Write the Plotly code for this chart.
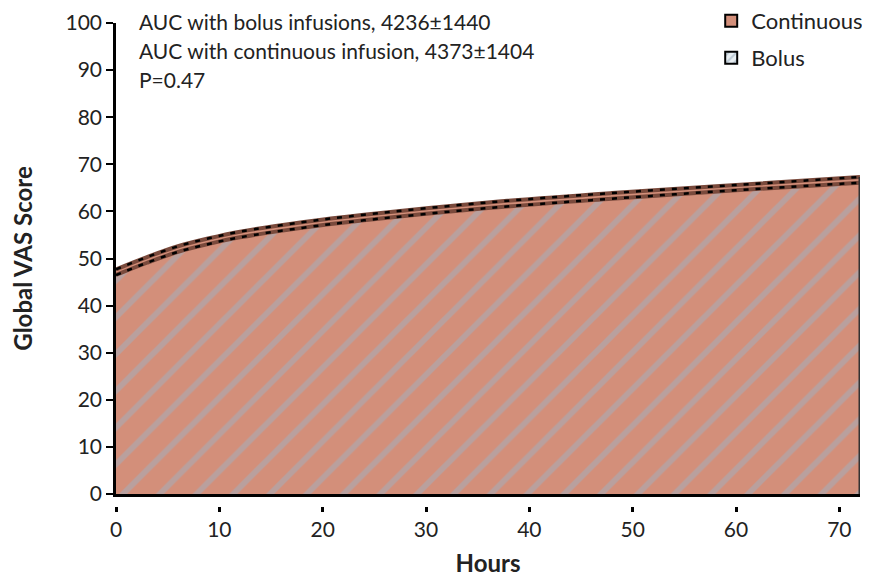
import plotly.graph_objects as go

hours = [0, 3, 6, 9, 12, 18, 24, 36, 48, 60, 72]
continuous = [47.7, 50.3, 52.6, 54.3, 55.7, 57.7, 59.3, 61.9, 63.9, 65.6, 67.3]
bolus = [46.5, 49.1, 51.4, 53.1, 54.5, 56.5, 58.1, 60.7, 62.7, 64.5, 66.1]
x_ticks = [0, 10, 20, 30, 40, 50, 60, 70]
y_ticks = [0, 10, 20, 30, 40, 50, 60, 70, 80, 90, 100]
notes = ["AUC with bolus infusions, 4236\u00b11440",
         "AUC with continuous infusion, 4373\u00b11404",
         "P=0.47"]

SALMON = "#d38f7a"
STRIPE = "#9fb2c2"
EDGE = "#7a4a3c"
FONT = "Lato"
TXT = "#222222"

fig = go.Figure()

# Continuous area
fig.add_trace(go.Scatter(
    x=hours, y=continuous, mode="lines", fill="tozeroy",
    fillcolor=SALMON, line=dict(color=EDGE, width=4, shape="spline"),
    showlegend=False, hoverinfo="skip"))
# Bolus hatched area
fig.add_trace(go.Scatter(
    x=hours, y=bolus, mode="lines", fill="tozeroy",
    fillcolor="rgba(0,0,0,0)",
    fillpattern=dict(shape="/", fgcolor=STRIPE, bgcolor="rgba(0,0,0,0)",
                     size=26, solidity=0.22),
    line=dict(color=EDGE, width=4, shape="spline"),
    showlegend=False, hoverinfo="skip"))
# dashed black overlays
for ys in (continuous, bolus):
    fig.add_trace(go.Scatter(
        x=hours, y=ys, mode="lines",
        line=dict(color="black", width=2.5, shape="spline", dash="5px,7px"),
        showlegend=False, hoverinfo="skip"))
# right edge of the area
fig.add_trace(go.Scatter(
    x=[hours[-1], hours[-1]], y=[0, continuous[-1]], mode="lines",
    line=dict(color="#333333", width=3), showlegend=False, hoverinfo="skip"))

# legend entries
fig.add_trace(go.Bar(x=[None], y=[None], name="Continuous",
                     marker=dict(color=SALMON, line=dict(color="black", width=2)),
                     legend="legend"))
fig.add_trace(go.Bar(x=[None], y=[None], name="Bolus",
                     marker=dict(color="#dfe7ed",
                                 pattern=dict(shape="/", fgcolor="#8fa5b6", bgcolor="#e8eef2",
                                              size=7, solidity=0.35),
                                 line=dict(color="black", width=2)),
                     legend="legend2"))

for i, t in enumerate(notes):
    fig.add_annotation(text=t, xref="paper", yref="paper", x=0.028, y=1.004 - i * 0.061,
                       xanchor="left", yanchor="middle", showarrow=False,
                       font=dict(family=FONT, size=21, color=TXT))

fig.update_layout(
    width=862, height=569,
    margin=dict(l=108, r=10, t=15, b=71, autoexpand=False),
    plot_bgcolor="white", paper_bgcolor="white",
    font=dict(family=FONT, size=21, color=TXT),
    legend=dict(x=0.80, y=1.004, xanchor="left", yanchor="middle",
                font=dict(family=FONT, size=22, color=TXT), bgcolor="rgba(0,0,0,0)"),
    legend2=dict(x=0.80, y=0.9275, xanchor="left", yanchor="middle",
                 font=dict(family=FONT, size=22, color=TXT), bgcolor="rgba(0,0,0,0)"),
    xaxis=dict(range=[0, 72], showline=True, linecolor="black", linewidth=3,
               showgrid=False, zeroline=False, showticklabels=False, ticks=""),
    xaxis2=dict(matches="x", overlaying="x", anchor="free", position=0,
                tickvals=x_ticks, ticks="outside", ticklen=5, tickwidth=2.5,
                tickcolor="black", showline=False, showgrid=False, zeroline=False,
                tickfont=dict(family=FONT, size=21, color=TXT),
                title=dict(text="<b>Hours</b>", font=dict(family=FONT, size=24, color=TXT),
                           standoff=21)),
    yaxis=dict(domain=[0.0248, 1], range=[0, 100], tickvals=y_ticks, ticks="outside",
               ticklen=7, tickwidth=2, tickcolor="black", showline=True, linecolor="black",
               linewidth=2.5, showgrid=False, zeroline=False, ticklabeloverflow="allow",
               tickfont=dict(family=FONT, size=21, color=TXT),
               title=dict(text="<b>Global VAS Score</b>", font=dict(family=FONT, size=24, color=TXT),
                          standoff=34)),
)
# dummy trace on xaxis2 so it renders
fig.add_trace(go.Scatter(x=[0], y=[None], xaxis="x2", mode="markers", showlegend=False,
                         hoverinfo="skip"))

fig.write_html("out.html")
